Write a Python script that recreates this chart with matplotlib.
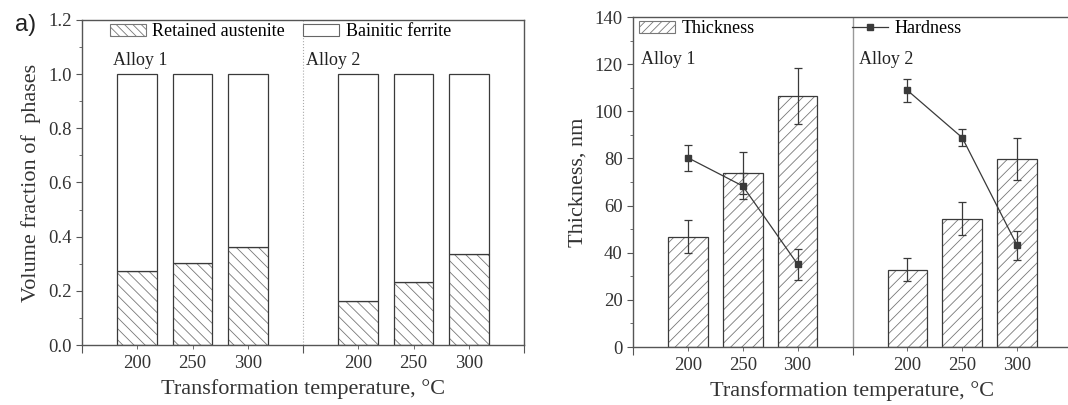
import numpy as np
import matplotlib.pyplot as plt
from matplotlib.patches import Patch
from matplotlib.lines import Line2D
from matplotlib.ticker import MultipleLocator

plt.rcParams['font.family'] = ['Liberation Serif', 'DejaVu Serif']
plt.rcParams['hatch.linewidth'] = 0.6

# data
temps = ['200', '250', '300']
ra_alloy1 = [0.272, 0.304, 0.363]     # retained austenite fraction
ra_alloy2 = [0.164, 0.234, 0.335]
thick_alloy1 = [46.7, 73.8, 106.5]     # nm
thick_err1 = [7, 9, 12]
thick_alloy2 = [32.8, 54.5, 79.8]
thick_err2 = [5, 7, 9]
hard_alloy1 = [80.3, 68.3, 35.1]       # as plotted on the thickness scale
hard_err1 = [5.5, 5.5, 6.5]
hard_alloy2 = [108.9, 88.8, 43.1]
hard_err2 = [5, 3.7, 6]

pos1 = np.arange(1, 4)
pos2 = np.arange(5, 8)
w = 0.72
dark = '#3a3a3a'
hcol = '#777777'
fs_tick = 13.5
fs_txt = 13
fs_lab = 16

fig = plt.figure(figsize=(10.68, 4.05), dpi=100)
W, H = 1068, 405
ax1 = fig.add_axes([82 / W, 1 - 345 / H, (524 - 82) / W, (345 - 20) / H])
ax2 = fig.add_axes([633 / W, 1 - 347 / H, (1072 - 633) / W, (347 - 17) / H])


def style(ax):
    for s in ax.spines.values():
        s.set_color('#555555')
        s.set_linewidth(1.0)
    ax.set_xlim(0, 8)
    ax.set_xticks([0, 4, 8], ['', '', ''])
    ax.set_xticks(list(pos1) + list(pos2), temps + temps, minor=True)
    ax.tick_params(axis='x', which='major', length=6, color='#555555')
    ax.tick_params(axis='x', which='minor', length=3, color='#555555',
                   labelsize=fs_tick, labelcolor='#333333', pad=4)
    ax.tick_params(axis='y', which='major', length=4, color='#555555',
                   labelsize=fs_tick, labelcolor='#333333')
    ax.tick_params(axis='y', which='minor', length=2, color='#555555')


# ---- left panel: volume fractions
style(ax1)
for pos, ra in [(pos1, ra_alloy1), (pos2, ra_alloy2)]:
    ra = np.array(ra)
    ax1.bar(pos, ra, w, color='white', edgecolor=hcol, hatch='\\\\\\', linewidth=0)
    ax1.bar(pos, ra, w, fill=False, edgecolor=dark, linewidth=0.9)
    ax1.bar(pos, 1 - ra, w, bottom=ra, color='white', edgecolor=dark, linewidth=0.9)
ax1.axvline(4, color='#aaaaaa', lw=0.8, ls=':')
ax1.set_ylim(0, 1.2)
ax1.yaxis.set_major_locator(MultipleLocator(0.2))
ax1.yaxis.set_minor_locator(MultipleLocator(0.1))
ax1.yaxis.set_major_formatter(plt.FormatStrFormatter('%.1f'))
ax1.set_ylabel('Volume fraction of  phases', fontsize=fs_lab, color='#333333', labelpad=5)
ax1.set_xlabel('Transformation temperature, °C', fontsize=fs_lab, color='#333333', labelpad=5)
ax1.text(0.56, 1.052, 'Alloy 1', fontsize=fs_txt, color='#222222', va='center')
ax1.text(4.05, 1.052, 'Alloy 2', fontsize=fs_txt, color='#222222', va='center')
h_ra = Patch(facecolor='white', edgecolor=hcol, hatch='\\\\\\\\', linewidth=0.8)
h_bf = Patch(facecolor='white', edgecolor='#666666', linewidth=0.8)
ax1.legend([h_ra, h_bf], ['Retained austenite', 'Bainitic ferrite'], ncol=2,
           loc='upper left', bbox_to_anchor=(0.063, 0.99), frameon=False,
           fontsize=fs_txt, borderpad=0, borderaxespad=0, handlelength=2.0,
           handleheight=0.6, handletextpad=0.35, columnspacing=1.0)
fig.text(15 / W, 1 - 25 / H, 'a)', fontsize=17, family='Liberation Sans',
         va='center', ha='left', color='#222222')

# ---- right panel: thickness and hardness
style(ax2)
for pos, th, te in [(pos1, thick_alloy1, thick_err1), (pos2, thick_alloy2, thick_err2)]:
    ax2.bar(pos, th, w, color='white', edgecolor=hcol, hatch='///', linewidth=0)
    ax2.bar(pos, th, w, fill=False, edgecolor=dark, linewidth=0.9)
    ax2.errorbar(pos, th, yerr=te, fmt='none', ecolor=dark, elinewidth=0.9,
                 capsize=3, capthick=0.9)
for pos, hd, he in [(pos1, hard_alloy1, hard_err1), (pos2, hard_alloy2, hard_err2)]:
    ax2.errorbar(pos, hd, yerr=he, fmt='-s', color=dark, ecolor=dark, lw=0.9,
                 ms=5, elinewidth=0.9, capsize=3, capthick=0.9)
ax2.axvline(4, color='#999999', lw=1.0)
ax2.set_ylim(0, 140)
ax2.yaxis.set_major_locator(MultipleLocator(20))
ax2.yaxis.set_minor_locator(MultipleLocator(10))
ax2.set_ylabel('Thickness, nm', fontsize=fs_lab, color='#333333', labelpad=5)
ax2.set_xlabel('Transformation temperature, °C', fontsize=fs_lab, color='#333333', labelpad=5)
ax2.text(0.15, 121.8, 'Alloy 1', fontsize=fs_txt, color='#222222', va='center')
ax2.text(4.12, 121.8, 'Alloy 2', fontsize=fs_txt, color='#222222', va='center')
h_th = Patch(facecolor='white', edgecolor=hcol, hatch='////', linewidth=0.8)
leg = ax2.legend([h_th], ['Thickness'], loc='upper left', bbox_to_anchor=(0.014, 0.99),
                 frameon=False, fontsize=fs_txt, borderpad=0, borderaxespad=0,
                 handlelength=2.0, handleheight=0.6, handletextpad=0.35)
ax2.add_artist(leg)
h_hd = Line2D([], [], color=dark, marker='s', ms=5, lw=0.9)
ax2.legend([h_hd], ['Hardness'], loc='upper left', bbox_to_anchor=(0.499, 0.99),
           frameon=False, fontsize=fs_txt, borderpad=0, borderaxespad=0,
           handlelength=2.0, handletextpad=0.35)

plt.savefig('out.png', dpi=100)
